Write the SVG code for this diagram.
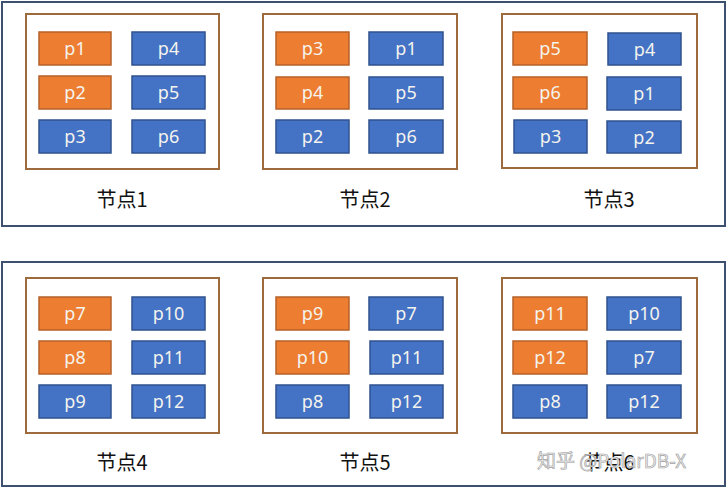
<svg xmlns="http://www.w3.org/2000/svg" width="728" height="489" viewBox="0 0 728 489">
<style>
.panel{fill:#fff;stroke:#3E5070;stroke-width:2}
.node{fill:#fff;stroke:#9C6A3C;stroke-width:2}
.o{fill:#ED7D31;stroke:#B5612A;stroke-width:1.5}
.b{fill:#4472C4;stroke:#2F528F;stroke-width:1.5}
.t{fill:#F4F4EE;font-family:"Noto Sans","Noto Sans CJK SC",sans-serif;font-size:18px;text-anchor:middle}
.lbl{fill:#111;font-family:"Noto Sans CJK SC","Noto Sans",sans-serif;font-size:20px;text-anchor:middle}
.wm{fill:#ececec;stroke:#a0a0a0;stroke-width:0.6;font-family:"Noto Sans CJK SC","Noto Sans",sans-serif;font-size:19px}
</style>
<rect width="728" height="489" fill="#fff"/>
<rect class="panel" x="2" y="2" width="723" height="224"/>
<rect class="panel" x="2" y="262" width="723" height="224"/>
<g id="node1">
<rect class="node" x="26" y="14" width="193" height="155"/>
<rect class="o" x="39" y="32" width="72" height="33"/><text class="t" x="75" y="55">p1</text>
<rect class="o" x="39" y="76" width="72" height="33"/><text class="t" x="75" y="99">p2</text>
<rect class="b" x="39" y="120" width="72" height="33"/><text class="t" x="75" y="143">p3</text>
<rect class="b" x="132" y="32" width="73" height="33"/><text class="t" x="168.5" y="55">p4</text>
<rect class="b" x="132" y="76" width="73" height="33"/><text class="t" x="168.5" y="99">p5</text>
<rect class="b" x="132" y="120" width="73" height="33"/><text class="t" x="168.5" y="143">p6</text>
<text class="lbl" x="122" y="207">节点1</text>
</g>
<g id="node2">
<rect class="node" x="263" y="14" width="194" height="155"/>
<rect class="o" x="276" y="32" width="73" height="33"/><text class="t" x="312.5" y="55">p3</text>
<rect class="o" x="276" y="77" width="73" height="32"/><text class="t" x="312.5" y="99">p4</text>
<rect class="b" x="276" y="120" width="73" height="33"/><text class="t" x="312.5" y="143">p2</text>
<rect class="b" x="369" y="32" width="74" height="33"/><text class="t" x="406" y="55">p1</text>
<rect class="b" x="369" y="77" width="74" height="32"/><text class="t" x="406" y="99">p5</text>
<rect class="b" x="369" y="120" width="74" height="33"/><text class="t" x="406" y="143">p6</text>
<text class="lbl" x="365" y="207">节点2</text>
</g>
<g id="node3">
<rect class="node" x="502" y="14" width="195" height="154"/>
<rect class="o" x="513" y="32" width="74" height="33"/><text class="t" x="550" y="55">p5</text>
<rect class="o" x="513" y="77" width="74" height="32"/><text class="t" x="550" y="99">p6</text>
<rect class="b" x="514" y="120" width="73" height="33"/><text class="t" x="550.5" y="143">p3</text>
<rect class="b" x="608" y="33" width="73" height="32"/><text class="t" x="644.5" y="55.5">p4</text>
<rect class="b" x="607" y="77" width="74" height="33"/><text class="t" x="644" y="100">p1</text>
<rect class="b" x="607" y="121" width="74" height="32"/><text class="t" x="644" y="143.5">p2</text>
<text class="lbl" x="609" y="207">节点3</text>
</g>
<g id="node4">
<rect class="node" x="26" y="278" width="193" height="155"/>
<rect class="o" x="39" y="297" width="72" height="33"/><text class="t" x="75" y="320">p7</text>
<rect class="o" x="39" y="341" width="72" height="33"/><text class="t" x="75" y="364">p8</text>
<rect class="b" x="39" y="385" width="72" height="33"/><text class="t" x="75" y="408">p9</text>
<rect class="b" x="132" y="297" width="73" height="33"/><text class="t" x="168.5" y="320">p10</text>
<rect class="b" x="132" y="341" width="73" height="33"/><text class="t" x="168.5" y="364">p11</text>
<rect class="b" x="132" y="385" width="73" height="33"/><text class="t" x="168.5" y="408">p12</text>
<text class="lbl" x="122" y="470">节点4</text>
</g>
<g id="node5">
<rect class="node" x="263" y="278" width="194" height="155"/>
<rect class="o" x="276" y="297" width="73" height="33"/><text class="t" x="312.5" y="320">p9</text>
<rect class="o" x="276" y="341" width="73" height="33"/><text class="t" x="312.5" y="364">p10</text>
<rect class="b" x="276" y="385" width="73" height="33"/><text class="t" x="312.5" y="408">p8</text>
<rect class="b" x="369" y="297" width="74" height="33"/><text class="t" x="406" y="320">p7</text>
<rect class="b" x="370" y="341" width="73" height="33"/><text class="t" x="406.5" y="364">p11</text>
<rect class="b" x="370" y="385" width="73" height="33"/><text class="t" x="406.5" y="408">p12</text>
<text class="lbl" x="365" y="470">节点5</text>
</g>
<g id="node6">
<rect class="node" x="502" y="278" width="195" height="155"/>
<rect class="o" x="513" y="297" width="74" height="33"/><text class="t" x="550" y="320">p11</text>
<rect class="o" x="513" y="341" width="74" height="33"/><text class="t" x="550" y="364">p12</text>
<rect class="b" x="513" y="385" width="74" height="33"/><text class="t" x="550" y="408">p8</text>
<rect class="b" x="607" y="297" width="74" height="33"/><text class="t" x="644" y="320">p10</text>
<rect class="b" x="607" y="341" width="74" height="33"/><text class="t" x="644" y="364">p7</text>
<rect class="b" x="607" y="385" width="74" height="33"/><text class="t" x="644" y="408">p12</text>
<text class="lbl" x="609" y="470">节点6</text>
</g>
<g id="connectors"></g>
<text class="wm" x="537" y="468">知乎 @PolarDB-X</text>
</svg>
